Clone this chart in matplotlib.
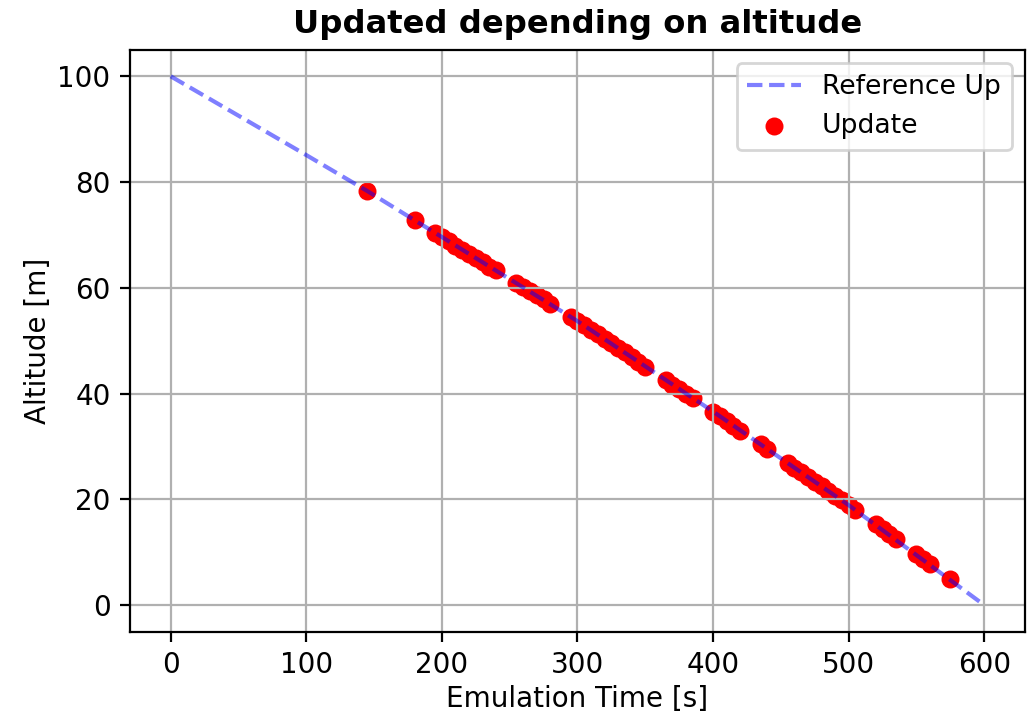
import matplotlib
matplotlib.use("Agg")
import matplotlib.pyplot as plt

# Reference trajectory
ref_time = [0, 100, 145, 200, 300, 400, 500, 600]
ref_alt = [100, 85.1, 78.3, 69.6, 53.7, 36.6, 18.9, 0]

# Update events (time [s], altitude [m])
upd_time = [145, 180,
            195, 200, 205, 210, 215, 220, 225, 230, 235, 240,
            255, 260, 265, 270, 275, 280,
            295, 300, 305, 310, 315, 320, 325, 330, 335, 340, 345, 350,
            365, 370, 375, 380, 385,
            400, 405, 410, 415, 420,
            435, 440,
            455, 460, 465, 470, 475, 480, 485, 490, 495, 500, 505,
            520, 525, 530, 535,
            550, 555, 560,
            575]
upd_alt = [78.3, 72.8,
           70.4, 69.6, 68.8, 68.0, 67.2, 66.4, 65.6, 64.8, 64.0, 63.3,
           61.0, 60.2, 59.4, 58.6, 57.8, 57.0,
           54.5, 53.7, 52.9, 52.1, 51.2, 50.4, 49.5, 48.6, 47.8, 46.9, 46.0, 45.1,
           42.6, 41.7, 40.8, 40.0, 39.1,
           36.6, 35.7, 34.8, 33.9, 33.0,
           30.4, 29.5,
           26.9, 26.0, 25.1, 24.2, 23.3, 22.5, 21.6, 20.7, 19.8, 18.9, 18.0,
           15.3, 14.4, 13.4, 12.5,
           9.7, 8.8, 7.8,
           4.9]

fig, ax = plt.subplots(figsize=(5.135, 3.56), dpi=200)
fig.subplots_adjust(left=0.1266, right=0.998, top=0.93, bottom=0.113)

ax.plot(ref_time, ref_alt, 'b--', alpha=0.5, linewidth=1.5, label='Reference Up')
ax.scatter(upd_time, upd_alt, color='red', s=30, label='Update')

ax.set_title('Updated depending on altitude', fontweight='bold', fontsize=11.6)
ax.set_xlabel('Emulation Time [s]', labelpad=2)
ax.set_ylabel('Altitude [m]', labelpad=2)
ax.grid(True)
ax.legend(loc='upper right', fontsize=9.6)

fig.savefig('out.png', dpi=200)
